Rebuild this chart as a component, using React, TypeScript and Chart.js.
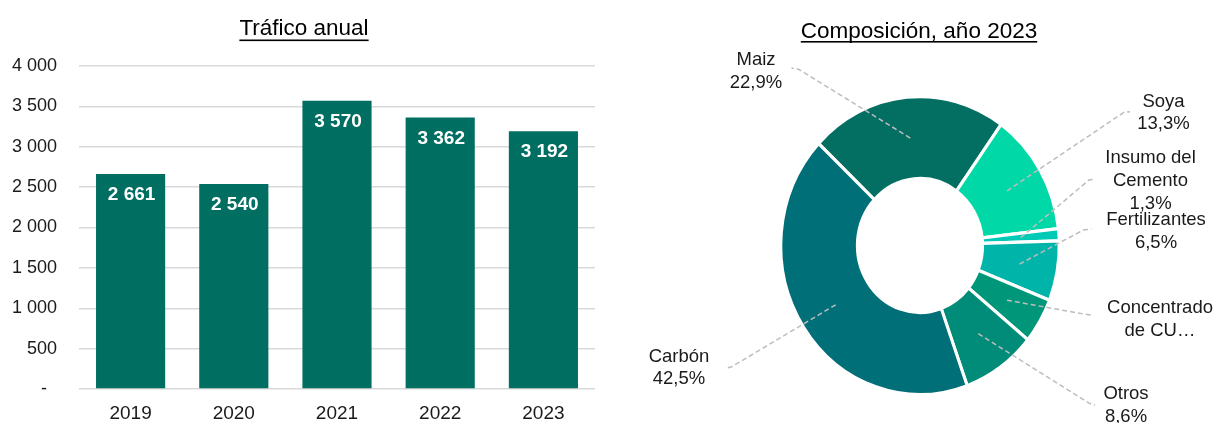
import React, { useEffect, useRef } from 'react';
import { Chart, registerables } from 'chart.js';

Chart.register(...registerables);

// ---------- data ----------
const YEARS = ['2019', '2020', '2021', '2022', '2023'];
const TRAFFIC = [2661, 2540, 3570, 3362, 3192];
const Y_MAX = 4000;
const Y_STEP = 500;

const CARGO = [['Maiz'], ['Soya'], ['Insumo del', 'Cemento'], ['Fertilizantes'], ['Concentrado', 'de CU…'], ['Otros'], ['Carbón']];
const SHARE = [22.9, 13.3, 1.3, 6.5, 4.9, 8.6, 42.5];
// the truncated label in the source shows no percentage
const SHOW_PCT = [true, true, true, true, false, true, true];

// ---------- styles ----------
const FONT = "'Liberation Sans', Arial, sans-serif";
const BAR_COLOR = '#016e62';
const CARGO_COLORS = ['#036f63', '#00d8a8', '#00cab6', '#00b4a9', '#009679', '#008c78', '#006f78'];
const TEXT = '#1a1a1a';
const ELLIPSE_SY = 1.07;

// label placement relative to doughnut centre: text (first line), knee, end of leader
const LABEL_LAYOUT = [
  { tx: -164, ty: -185.5, kx: -121, ky: -176, ex: -128.5, ey: -177.5 },
  { tx: 243.5, ty: -143.8, kx: 204, ky: -133.2, ex: 210, ey: -133.8 },
  { tx: 230.5, ty: -87.2, kx: 169, ky: -65.5, ex: 175, ey: -66.5 },
  { tx: 236, ty: -25.5, kx: 163.5, ky: -15.5, ex: 171.3, ey: -16.2 },
  { tx: 240, ty: 62.8, kx: 163.5, ky: 68.5, ex: 171.3, ey: 69.5 },
  { tx: 206, ty: 148.5, kx: 169.3, ky: 157.8, ex: 175, ey: 159.5 },
  { tx: -241, ty: 111.2, kx: -188.2, ky: 121.2, ex: -194, ey: 122.8 },
];

const fmtThousands = (v: number) => Math.round(v).toString().replace(/\B(?=(\d{3})+(?!\d))/g, ' ');
const fmtPct = (v: number) => v.toFixed(1).replace('.', ',') + '%';

function makeTitlePlugin(id: string, text: string, x: number, y: number, uy: number) {
  return {
    id,
    afterDraw(chart: any) {
      const ctx = chart.ctx;
      ctx.save();
      ctx.font = `22.5px ${FONT}`;
      ctx.fillStyle = '#000';
      ctx.textAlign = 'center';
      ctx.textBaseline = 'middle';
      ctx.fillText(text, x, y);
      const w = ctx.measureText(text).width;
      ctx.fillRect(x - w / 2, uy, w, 1.6);
      ctx.restore();
    },
  };
}

const barLabelsPlugin = {
  id: 'barLabels',
  afterDatasetsDraw(chart: any) {
    const ctx = chart.ctx;
    const meta = chart.getDatasetMeta(0);
    ctx.save();
    ctx.font = `bold 19px ${FONT}`;
    ctx.fillStyle = '#fff';
    ctx.textAlign = 'center';
    ctx.textBaseline = 'middle';
    meta.data.forEach((el: any, i: number) => {
      ctx.fillText(fmtThousands(TRAFFIC[i]), el.x + 1, el.y + 21);
    });
    ctx.restore();
  },
};

const ellipsePlugin = {
  id: 'ellipse',
  beforeDatasetsDraw(chart: any) {
    const a = chart.getDatasetMeta(0).data[0];
    const ctx = chart.ctx;
    ctx.save();
    ctx.translate(a.x, a.y);
    ctx.scale(1, ELLIPSE_SY);
    ctx.translate(-a.x, -a.y);
  },
  afterDatasetsDraw(chart: any) {
    chart.ctx.restore();
  },
};

const donutLabelsPlugin = {
  id: 'donutLabels',
  afterDraw(chart: any) {
    const ctx = chart.ctx;
    const arcs = chart.getDatasetMeta(0).data;
    ctx.save();
    // leader lines
    ctx.strokeStyle = '#bdbdbd';
    ctx.lineWidth = 1.5;
    ctx.setLineDash([5, 3]);
    arcs.forEach((arc: any, i: number) => {
      const L = LABEL_LAYOUT[i];
      const mid = (arc.startAngle + arc.endAngle) / 2;
      const r = (arc.innerRadius + arc.outerRadius) / 2;
      const px = arc.x + r * Math.cos(mid);
      const py = arc.y + r * Math.sin(mid) * ELLIPSE_SY;
      ctx.beginPath();
      ctx.moveTo(px, py);
      ctx.lineTo(arc.x + L.kx, arc.y + L.ky);
      ctx.lineTo(arc.x + L.ex, arc.y + L.ey);
      ctx.stroke();
    });
    ctx.setLineDash([]);
    // texts
    ctx.font = `18.5px ${FONT}`;
    ctx.fillStyle = TEXT;
    ctx.textAlign = 'center';
    ctx.textBaseline = 'middle';
    arcs.forEach((arc: any, i: number) => {
      const L = LABEL_LAYOUT[i];
      const lines = SHOW_PCT[i] ? [...CARGO[i], fmtPct(SHARE[i])] : [...CARGO[i]];
      lines.forEach((t, j) => ctx.fillText(t, arc.x + L.tx, arc.y + L.ty + j * 22.6));
    });
    ctx.restore();
  },
};

export default function App() {
  const barRef = useRef<HTMLCanvasElement>(null);
  const pieRef = useRef<HTMLCanvasElement>(null);

  useEffect(() => {
    const bar = new Chart(barRef.current as HTMLCanvasElement, {
      type: 'bar',
      data: {
        labels: YEARS,
        datasets: [
          {
            data: TRAFFIC,
            backgroundColor: BAR_COLOR,
            borderWidth: 0,
            barPercentage: 0.67,
            categoryPercentage: 1,
          },
        ],
      },
      options: {
        responsive: false,
        animation: false,
        devicePixelRatio: 1,
        layout: { padding: { top: 66, right: 15, left: 0, bottom: 0 } },
        plugins: { legend: { display: false }, tooltip: { enabled: false }, title: { display: false } },
        scales: {
          x: {
            grid: { display: false, drawTicks: false },
            border: { display: false },
            ticks: { color: TEXT, font: { family: FONT, size: 19 }, padding: 13 },
            afterFit: (s: any) => { s.height = 34; },
          },
          y: {
            min: 0,
            max: Y_MAX,
            grid: { color: '#d9d9d9', lineWidth: 1.5, drawTicks: false },
            border: { display: false },
            ticks: {
              stepSize: Y_STEP,
              color: TEXT,
              font: { family: FONT, size: 18 },
              padding: 22,
              callback: (v: any) => (Number(v) === 0 ? '-  ' : fmtThousands(Number(v))),
            },
            afterFit: (s: any) => { s.width = 79; },
          },
        },
      },
      plugins: [barLabelsPlugin, makeTitlePlugin('barTitle', 'Tráfico anual', 304, 28.5, 39.5)],
    });

    const pie = new Chart(pieRef.current as HTMLCanvasElement, {
      type: 'doughnut',
      data: {
        labels: CARGO.map((c) => c.join(' ')),
        datasets: [
          {
            data: SHARE,
            backgroundColor: CARGO_COLORS,
            borderColor: '#ffffff',
            borderWidth: 3,
            hoverBorderWidth: 3,
            hoverOffset: 0,
          },
        ],
      },
      options: {
        responsive: false,
        animation: false,
        devicePixelRatio: 1,
        rotation: -46.8,
        cutout: '45%',
        layout: { padding: { left: 169.3, right: 155.3, top: 104.8, bottom: 36.8 } },
        plugins: { legend: { display: false }, tooltip: { enabled: false }, title: { display: false } },
      },
      plugins: [ellipsePlugin, donutLabelsPlugin, makeTitlePlugin('pieTitle', 'Composición, año 2023', 309, 31.5, 41)],
    });

    return () => {
      bar.destroy();
      pie.destroy();
    };
  }, []);

  return (
    <div style={{ position: 'absolute', left: 0, top: 0, width: 1216, height: 423, background: '#fff', overflow: 'hidden' }}>
      <canvas ref={barRef} width={610} height={423} style={{ position: 'absolute', left: 0, top: 0, width: 610, height: 423 }} />
      <canvas ref={pieRef} width={606} height={423} style={{ position: 'absolute', left: 610, top: 0, width: 606, height: 423 }} />
    </div>
  );
}
